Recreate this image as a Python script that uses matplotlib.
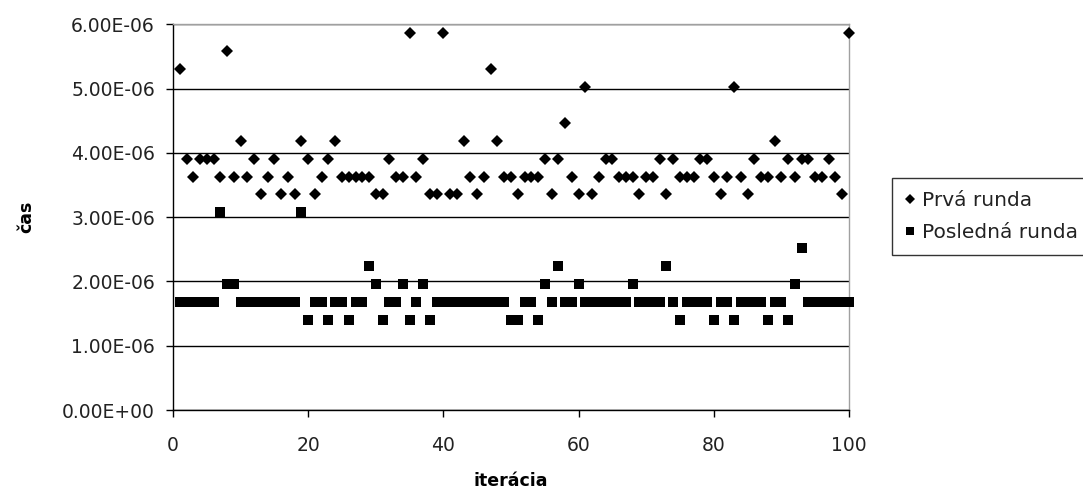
import numpy as np
import matplotlib
matplotlib.use("Agg")
import matplotlib.pyplot as plt
from matplotlib.ticker import FuncFormatter, MultipleLocator

plt.rcParams['font.family'] = ['DejaVu Sans']

# iterations
iteracia = list(range(1, 101))

# times in microseconds
prva_runda_us = [
    5.309, 3.912, 3.632, 3.912, 3.912, 3.912, 3.632, 5.588, 3.632, 4.191,
    3.632, 3.912, 3.353, 3.632, 3.912, 3.353, 3.632, 3.353, 4.191, 3.912,
    3.353, 3.632, 3.912, 4.191, 3.632, 3.632, 3.632, 3.632, 3.632, 3.353,
    3.353, 3.912, 3.632, 3.632, 5.867, 3.632, 3.912, 3.353, 3.353, 5.867,
    3.353, 3.353, 4.191, 3.632, 3.353, 3.632, 5.309, 4.191, 3.632, 3.632,
    3.353, 3.632, 3.632, 3.632, 3.912, 3.353, 3.912, 4.470, 3.632, 3.353,
    5.029, 3.353, 3.632, 3.912, 3.912, 3.632, 3.632, 3.632, 3.353, 3.632,
    3.632, 3.912, 3.353, 3.912, 3.632, 3.632, 3.632, 3.912, 3.912, 3.632,
    3.353, 3.632, 5.029, 3.632, 3.353, 3.912, 3.632, 3.632, 4.191, 3.632,
    3.912, 3.632, 3.912, 3.912, 3.632, 3.632, 3.912, 3.632, 3.353, 5.867,
]

posledna_runda_us = [
    1.676, 1.676, 1.676, 1.676, 1.676, 1.676, 3.073, 1.956, 1.956, 1.676,
    1.676, 1.676, 1.676, 1.676, 1.676, 1.676, 1.676, 1.676, 3.073, 1.397,
    1.676, 1.676, 1.397, 1.676, 1.676, 1.397, 1.676, 1.676, 2.235, 1.956,
    1.397, 1.676, 1.676, 1.956, 1.397, 1.676, 1.956, 1.397, 1.676, 1.676,
    1.676, 1.676, 1.676, 1.676, 1.676, 1.676, 1.676, 1.676, 1.676, 1.397,
    1.397, 1.676, 1.676, 1.397, 1.956, 1.676, 2.235, 1.676, 1.676, 1.956,
    1.676, 1.676, 1.676, 1.676, 1.676, 1.676, 1.676, 1.956, 1.676, 1.676,
    1.676, 1.676, 2.235, 1.676, 1.397, 1.676, 1.676, 1.676, 1.676, 1.397,
    1.676, 1.676, 1.397, 1.676, 1.676, 1.676, 1.676, 1.397, 1.676, 1.676,
    1.397, 1.956, 2.515, 1.676, 1.676, 1.676, 1.676, 1.676, 1.676, 1.676,
]

series_labels = ["Prvá runda", "Posledná runda"]
x_label = "iterácia"
y_label = "čas"

prva = np.array(prva_runda_us) * 1e-6
posledna = np.array(posledna_runda_us) * 1e-6

W, H = 1083, 497
fig = plt.figure(figsize=(W / 100, H / 100), dpi=100)
ax = fig.add_axes([173 / W, 1 - 410 / H, (849 - 173) / W, (410 - 24.3) / H])

ax.plot(iteracia, prva, linestyle='none', marker='D', ms=6.2, mew=0,
        color='black', label=series_labels[0], clip_on=False, zorder=3)
ax.plot(iteracia, posledna, linestyle='none', marker='s', ms=7.8, mew=0,
        color='black', label=series_labels[1], clip_on=False, zorder=3)

ax.set_xlim(0, 100)
ax.set_ylim(0, 6e-6)
ax.xaxis.set_major_locator(MultipleLocator(20))
ax.yaxis.set_major_locator(MultipleLocator(1e-6))
ax.yaxis.set_major_formatter(FuncFormatter(lambda v, p: f"{v:.2E}"))

ax.grid(axis='y', color='black', linewidth=1.0)
ax.set_axisbelow(True)

for s in ['left', 'bottom']:
    ax.spines[s].set_color('black')
    ax.spines[s].set_linewidth(1.0)
for s in ['top', 'right']:
    ax.spines[s].set_color('#a0a0a0')
    ax.spines[s].set_linewidth(1.0)

ax.tick_params(axis='both', direction='out', length=5, width=1.0,
               colors='black', labelsize=13.5, pad=8)
ax.tick_params(axis='both', labelcolor='#222222')
ax.tick_params(axis='x', pad=14)

ax.set_xlabel(x_label, fontsize=12.5, fontweight='bold', labelpad=12)
ax.set_ylabel(y_label, fontsize=12.5, fontweight='bold', labelpad=19)

leg = fig.legend(loc='upper left', bbox_to_anchor=(892 / W, 1 - 178 / H),
                 bbox_transform=fig.transFigure, frameon=True, fancybox=False,
                 edgecolor='black', fontsize=14.5, handlelength=0.5,
                 handletextpad=0.35, borderpad=0.65, labelspacing=0.62,
                 markerscale=0.75, borderaxespad=0)
leg.get_frame().set_linewidth(1.0)
for t in leg.get_texts():
    t.set_color('#222222')

fig.savefig("out.png", dpi=100)
